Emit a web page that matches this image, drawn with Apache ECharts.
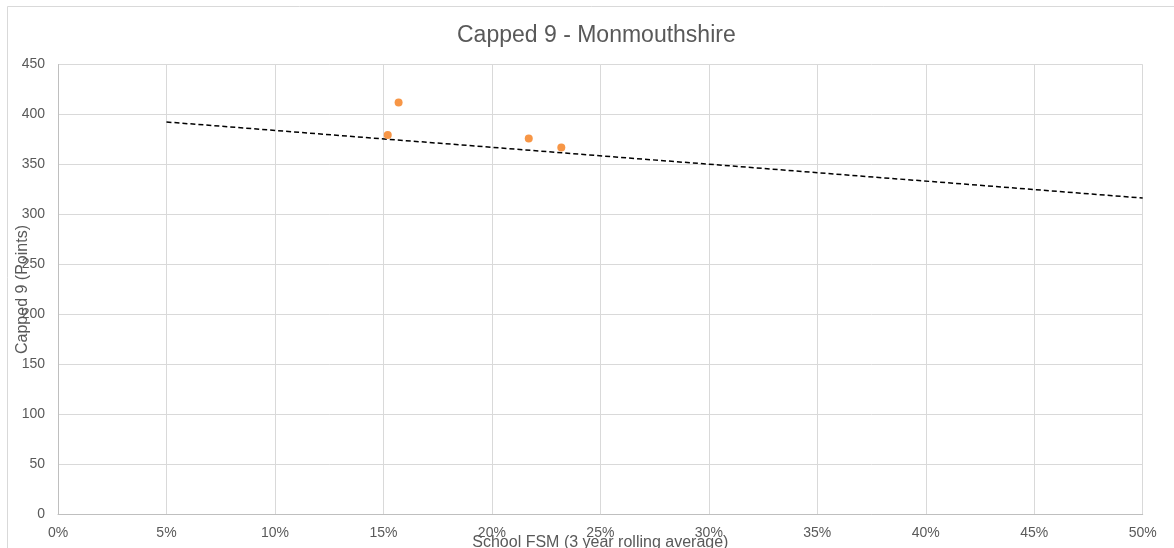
<!DOCTYPE html>
<html>
<head>
<meta charset="utf-8">
<title>Capped 9 - Monmouthshire</title>
<script src="https://cdn.jsdelivr.net/npm/echarts@6/dist/echarts.min.js"></script>
<style>
  html, body { margin: 0; padding: 0; background: #fff; }
  #chart { width: 1174px; height: 548px; }
</style>
</head>
<body>
<div id="chart"></div>
<script>
// school FSM % (3 year rolling average) vs capped 9 points
const fsmPct = [15.7, 15.2, 21.7, 23.2]
const capped9 = [412, 379.5, 376, 367]

// linear trendline end points
const trendX = [5, 50]
const trendY = [392.5, 316.5]

const xTicks = { min: 0, max: 50, interval: 5 }
const yTicks = { min: 0, max: 450, interval: 50 }

const textColor = '#595959'
const font = 'Liberation Sans, Arial, sans-serif'

const chart = echarts.init(document.getElementById('chart'), null, { renderer: 'canvas' })

const points = fsmPct.map((x, i) => [x, capped9[i]])
const trend = trendX.map((x, i) => [x, trendY[i]])

const option = {
  animation: false,
  backgroundColor: '#fff',
  title: {
    text: 'Capped 9 - Monmouthshire',
    left: 452,
    top: 19,
    textStyle: { color: textColor, fontSize: 23, fontWeight: 'normal', fontFamily: font }
  },
  graphic: [{
    type: 'rect',
    shape: { x: 7.5, y: 6.5, width: 1190, height: 580 },
    style: { fill: 'none', stroke: '#d9d9d9', lineWidth: 1 },
    silent: true,
    z: -1
  }],
  grid: {
    left: 58, top: 64.5, right: 31.3, bottom: 33.5,
    containLabel: false,
    outerBoundsMode: 'none'
  },
  xAxis: {
    type: 'value',
    min: xTicks.min,
    max: xTicks.max,
    interval: xTicks.interval,
    name: 'School FSM (3 year rolling average)',
    nameLocation: 'middle',
    nameGap: 20,
    nameMoveOverlap: false,
    nameTextStyle: { color: textColor, fontSize: 16, fontFamily: font },
    axisLine: { show: true, lineStyle: { color: '#bfbfbf' } },
    axisTick: { show: false },
    axisLabel: { color: textColor, fontSize: 14, fontFamily: font, margin: 12, formatter: '{value}%' },
    splitLine: { show: true, lineStyle: { color: '#d9d9d9' } }
  },
  yAxis: {
    type: 'value',
    min: yTicks.min,
    max: yTicks.max,
    interval: yTicks.interval,
    name: 'Capped 9 (Points)',
    nameLocation: 'middle',
    nameGap: 27,
    nameMoveOverlap: false,
    nameTextStyle: { color: textColor, fontSize: 16, fontFamily: font },
    axisLine: { show: true, lineStyle: { color: '#bfbfbf' } },
    axisTick: { show: false },
    axisLabel: { color: textColor, fontSize: 14, fontFamily: font, margin: 13 },
    splitLine: { show: true, lineStyle: { color: '#d9d9d9' } }
  },
  series: [
    {
      name: 'Trend',
      type: 'line',
      data: trend,
      symbol: 'none',
      lineStyle: { color: '#000', width: 1.5, type: [5, 3] },
      z: 2
    },
    {
      name: 'Capped 9',
      type: 'scatter',
      data: points,
      symbolSize: 8,
      itemStyle: { color: '#F79646', opacity: 1 },
      z: 3
    }
  ]
}

chart.setOption(option)
window.addEventListener('resize', chart.resize)
</script>
</body>
</html>
